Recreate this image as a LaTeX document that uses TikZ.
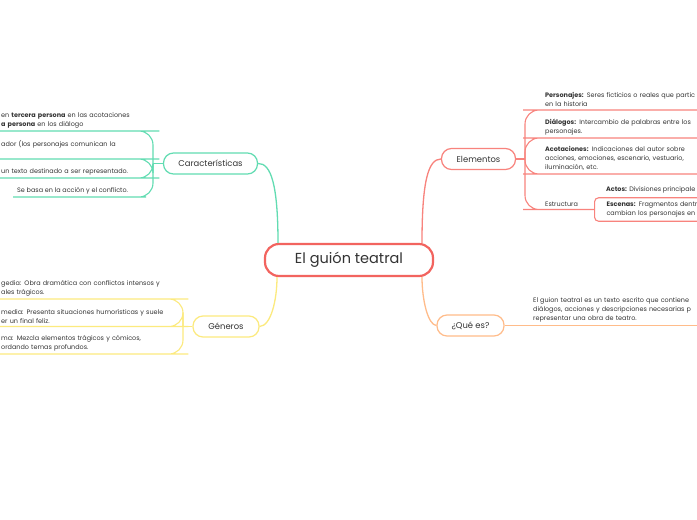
\documentclass[tikz,border=0pt]{standalone}
\usepackage{fontspec}
\setmainfont{Poppins}
\usetikzlibrary{positioning}
\definecolor{cMain}{HTML}{F2645F}
\definecolor{cEl}{HTML}{F8837D}
\definecolor{cCar}{HTML}{62DCB2}
\definecolor{cGen}{HTML}{FCEA7E}
\definecolor{cQue}{HTML}{FFBC8A}
\definecolor{cInk}{HTML}{333333}
\tikzset{
  x=1pt, y=-1pt,
  hub/.style ={draw=cMain,line width=2.2pt,fill=white,rounded corners=14pt,minimum width=168pt,
               minimum height=32pt,font=\fontsize{14.5}{16}\selectfont,text=cInk},
  topic/.style={line width=1.2pt,fill=white,rounded corners=10pt,minimum height=21pt,
               font=\fontsize{8.4}{10}\selectfont,text=cInk},
  leaf/.style ={font=\fontsize{6.45}{9}\selectfont,align=left,inner xsep=8pt,inner ysep=3pt,text=cInk},
  cl/.style   ={line width=1.1pt,rounded corners=14pt},
  link/.style ={line width=1.3pt},
}
\begin{document}
\begin{tikzpicture}
\useasboundingbox (0,0) rectangle (697,520);
\fill[white] (0,0) rectangle (697,520);
\clip (0,0) rectangle (697,520);
% central topic and main branches
\node[hub]                               (hub)  at (349,260)   {El guión teatral};
\node[topic,draw=cCar,minimum width=94pt] (car)  at (210.5,163.5) {Características};
\node[topic,draw=cGen,minimum width=66pt] (gen)  at (226,326.5) {Géneros};
\node[topic,draw=cEl,minimum width=74pt]  (elem) at (478.5,159) {Elementos};
\node[topic,draw=cQue,minimum width=67pt] (que)  at (470.5,325.5) {¿Qué es?};
\draw[link,cCar] (car.east) .. controls (271,163) and (278,185) .. ([xshift=-71pt]hub.north);
\draw[link,cGen] (gen.east) .. controls (271,326) and (277,300) .. ([xshift=-72pt]hub.south);
\draw[link,cEl]  (elem.west) .. controls (428,159) and (422,182) .. ([xshift=73pt]hub.north);
\draw[link,cQue] (que.west) .. controls (428,325) and (422,300) .. ([xshift=73pt]hub.south);
% Caracteristicas
\node[leaf,text width=136pt,anchor=south west] (c1) at (-7,131)
  {en \textbf{tercera persona} en las acotaciones\\\textbf{a persona} en los diálogo};
\node[leaf,text width=136pt,anchor=south west] (c2) at (-7,159)
  {ador (los personajes comunican la\\\mbox{}};
\node[leaf,text width=136pt,anchor=south west] (c3) at (-7,178)
  {un texto destinado a ser representado.};
\node[leaf,inner xsep=4pt,anchor=south west]   (c4) at (13,197)
  {Se basa en la acción y el conflicto.};
\coordinate (cj) at (153,163.5);
\draw[cl,cCar] (car.west) -- (cj);
\foreach \n in {c1,c2,c3,c4}
  \draw[cl,cCar] (cj) |- (\n.south east) -- (\n.south west);
% Generos
\node[leaf,text width=165pt,anchor=south west] (g1) at (-7,299)
  {gedia: Obra dramática con conflictos intensos y\\ales trágicos.};
\node[leaf,text width=165pt,anchor=south west] (g2) at (-7,326.5)
  {media: Presenta situaciones humorísticas y suele\\er un final feliz.};
\node[leaf,text width=165pt,anchor=south west] (g3) at (-7,354)
  {ma: Mezcla elementos trágicos y cómicos,\\ordando temas profundos.};
\coordinate (gj) at (183,326.5);
\draw[cl,cGen] (gen.west) -- (gj);
\foreach \n in {g1,g2,g3}
  \draw[cl,cGen] (gj) |- (\n.south east) -- (\n.south west);
% Elementos
\node[leaf,text width=170pt,anchor=south west] (e1) at (537,110)
  {\textbf{Personajes:} Seres ficticios o reales que partic\\en la historia};
\node[leaf,text width=170pt,anchor=south west] (e2) at (537,138)
  {\textbf{Diálogos:} Intercambio de palabras entre los\\personajes.};
\node[leaf,text width=170pt,anchor=south west] (e3) at (537,174)
  {\textbf{Acotaciones:} Indicaciones del autor sobre\\acciones, emociones, escenario, vestuario,\\iluminación, etc.};
\node[leaf,anchor=south west]                  (e4) at (537,209.5) {Estructura};
\node[leaf,anchor=south west,inner xsep=0pt]   (act) at (606,196)
  {\textbf{Actos:} Divisiones principale};
\node[leaf,draw=cEl,line width=1.1pt,rounded corners=4pt,text width=130pt,inner xsep=12pt,
      inner ysep=4pt,anchor=west] (esc) at (594,209.5)
  {\textbf{Escenas:} Fragmentos dentr\\cambian los personajes en};
\coordinate (ej) at (525,159);
\draw[cl,cEl] (elem.east) -- (ej);
\foreach \n in {e1,e2,e3}
  \draw[cl,cEl] (ej) |- (\n.south west) -- (\n.south east);
\draw[cl,cEl] (ej) |- (e4.south west) -- (esc.west);
% Que es
\node[leaf,text width=170pt,anchor=south west,inner xsep=11pt] (q1) at (522,325.5)
  {El guion teatral es un texto escrito que contiene\\diálogos, acciones y descripciones necesarias p\\representar una obra de teatro.};
\draw[cl,cQue] (que.east) -- (q1.south west) -- (q1.south east);
\end{tikzpicture}
\end{document}
